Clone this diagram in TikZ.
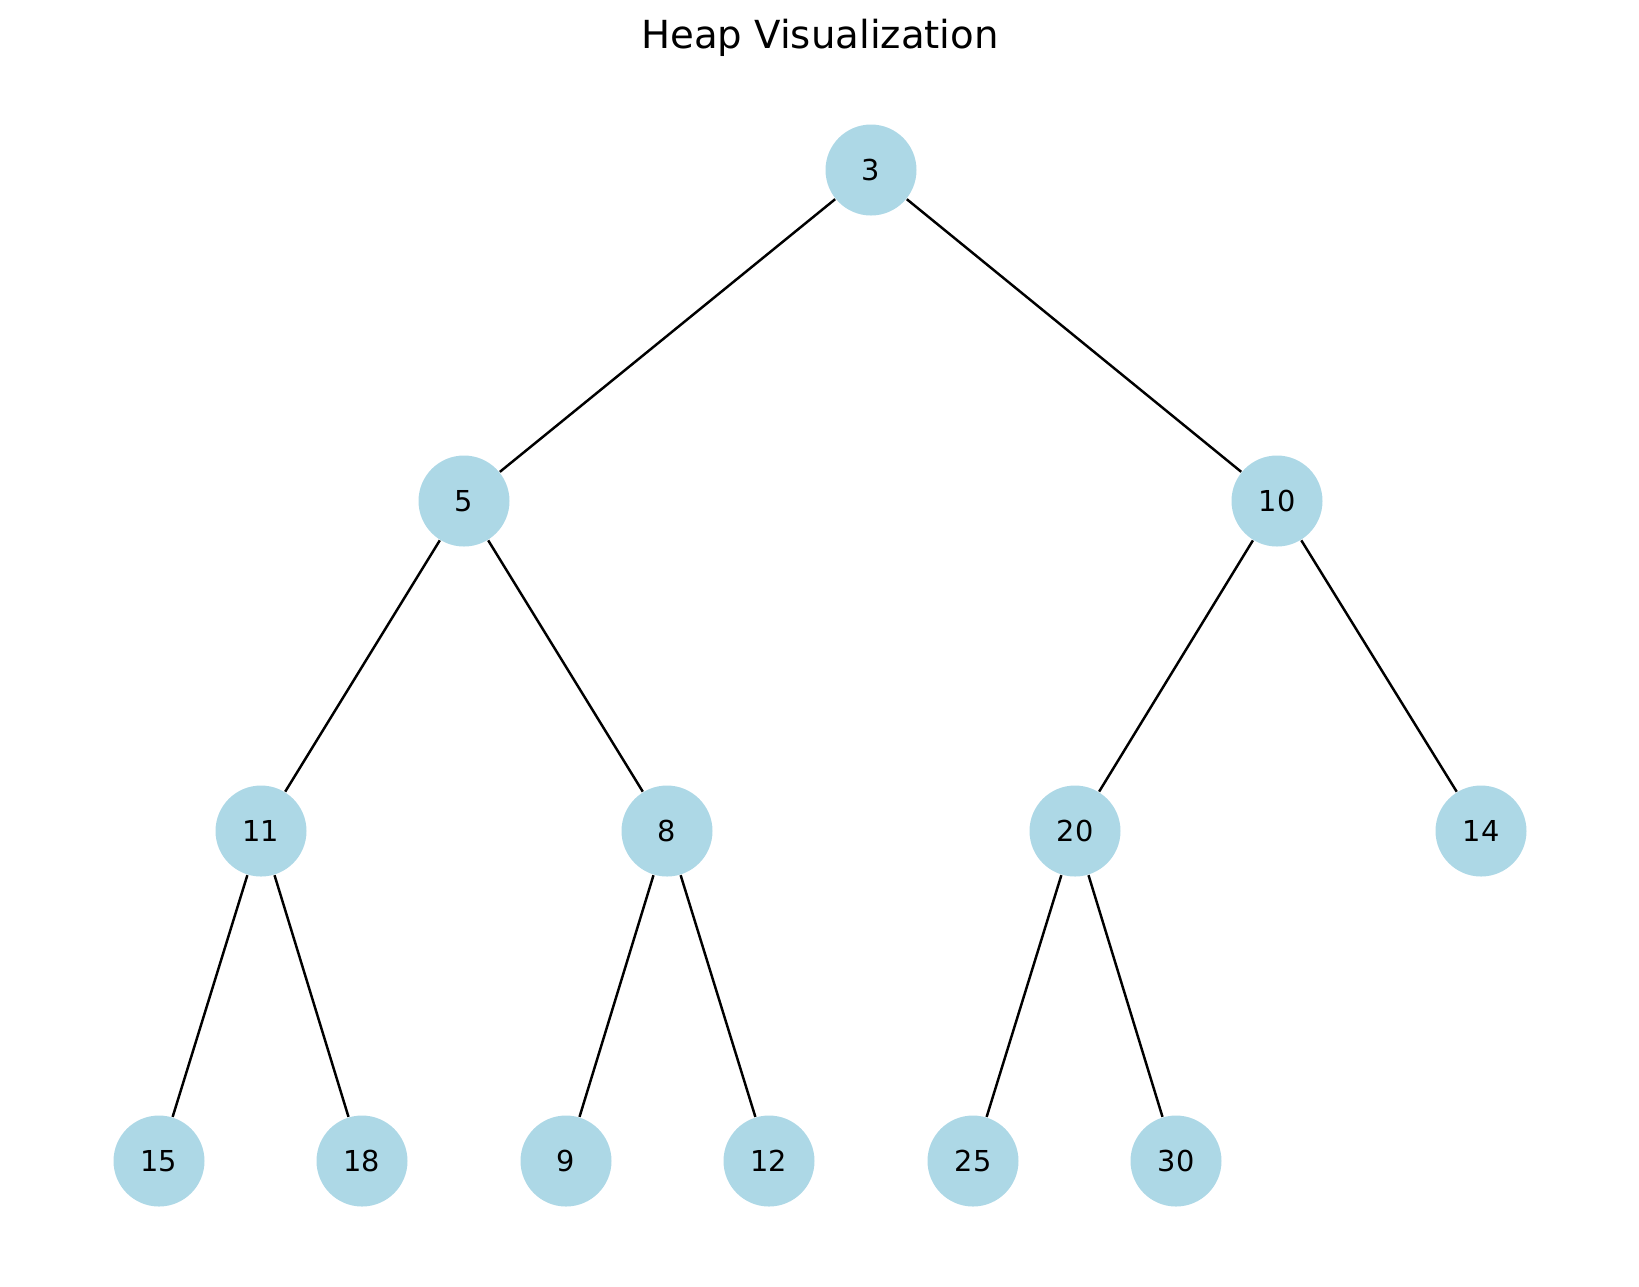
\documentclass[tikz,border=0pt]{standalone}
\usepackage{fontspec}
\setmainfont{DejaVu Sans}
\usetikzlibrary{positioning}
\definecolor{HeapBlue}{HTML}{ADD8E6}

\begin{document}
\begin{tikzpicture}[
    heapnode/.style={
      circle,
      fill=HeapBlue,
      minimum size=0.91cm,
      inner sep=0pt,
      font=\fontsize{8.2}{10}\selectfont
    },
    treeline/.style={
      line width=0.7pt,
      draw=black
    }]

    % page frame
    \useasboundingbox (0,0) rectangle (16.39,-12.86);

    % Title
    \node[font=\fontsize{11}{13}\selectfont] (title) at (8.20,-0.38) {Heap Visualization};

    % Level 0 and 1
    \node[heapnode] (n3) at (8.71,-1.70) {3};
    \node[heapnode] (n5) at (4.64,-5.01) {5};
    \node[heapnode] (n10) at (12.77,-5.01) {10};

    % Level 2
    \node[heapnode] (n11) at (2.61,-8.31) {11};
    \node[heapnode] (n8) at (6.67,-8.31) {8};
    \node[heapnode] (n20) at (10.75,-8.31) {20};
    \node[heapnode] (n14) at (14.81,-8.31) {14};

    % Level 3
    \node[heapnode] (n15) at (1.59,-11.61) {15};
    \node[heapnode] (n18) at (3.62,-11.61) {18};
    \node[heapnode] (n9) at (5.66,-11.61) {9};
    \node[heapnode] (n12) at (7.69,-11.61) {12};
    \node[heapnode] (n25) at (9.73,-11.61) {25};
    \node[heapnode] (n30) at (11.76,-11.61) {30};

    % Edges
    \draw[treeline] (n3) -- (n5);
    \draw[treeline] (n3) -- (n10);
    \draw[treeline] (n5) -- (n11);
    \draw[treeline] (n5) -- (n8);
    \draw[treeline] (n10) -- (n20);
    \draw[treeline] (n10) -- (n14);
    \draw[treeline] (n11) -- (n15);
    \draw[treeline] (n11) -- (n18);
    \draw[treeline] (n8) -- (n9);
    \draw[treeline] (n8) -- (n12);
    \draw[treeline] (n20) -- (n25);
    \draw[treeline] (n20) -- (n30);
  \end{tikzpicture}
\end{document}
